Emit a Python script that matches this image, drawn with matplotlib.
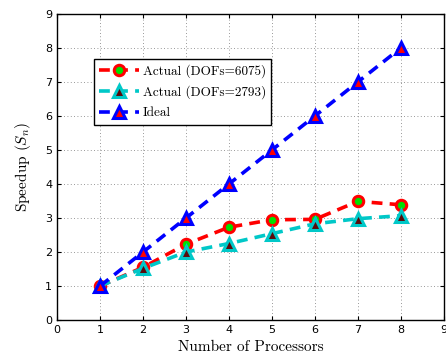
import matplotlib
matplotlib.use('Agg')
import matplotlib.pyplot as plt

procs = [1, 2, 3, 4, 5, 6, 7, 8]
speedup_6075 = [1.0, 1.55, 2.23, 2.73, 2.95, 2.96, 3.49, 3.39]
speedup_2793 = [1.0, 1.52, 2.0, 2.25, 2.54, 2.83, 2.98, 3.07]
speedup_ideal = [1, 2, 3, 4, 5, 6, 7, 8]

plt.rcParams['mathtext.fontset'] = 'cm'
serif = {'family': 'cmr10'}

fig = plt.figure(figsize=(4.46, 3.58), dpi=100)
ax = fig.add_axes([0.128, 0.106, 0.867, 0.855])

ax.plot(procs, speedup_6075, '--', color='red', linewidth=2.6, dashes=(3, 2),
        marker='o', markersize=7.5, markerfacecolor='#00e000', markeredgecolor='red',
        markeredgewidth=2.2, label='Actual (DOFs=6075)')
ax.plot(procs, speedup_2793, '--', color='#00c8c8', linewidth=2.6, dashes=(3, 2),
        marker='^', markersize=8.5, markerfacecolor='#5a0a0a', markeredgecolor='#00c8c8',
        markeredgewidth=2.2, label='Actual (DOFs=2793)')
ax.plot(procs, speedup_ideal, '--', color='blue', linewidth=2.6, dashes=(3, 2),
        marker='^', markersize=8.5, markerfacecolor='red', markeredgecolor='blue',
        markeredgewidth=2.2, label='Ideal')

ax.set_xlim(0, 9)
ax.set_ylim(0, 9)
ax.set_xticks(range(10))
ax.set_yticks(range(10))
ax.tick_params(direction='in', labelsize=8, length=3, top=True, right=True)
ax.grid(True, linestyle=(0, (1, 3)), color='#777777', linewidth=0.6)
for s in ax.spines.values():
    s.set_linewidth(1.0)

ax.set_xlabel('Number of Processors', fontsize=11, fontdict=serif, labelpad=4)
ax.set_ylabel('Speedup ($S_n$)', fontsize=11, fontdict=serif, labelpad=9)

leg = ax.legend(loc='upper left', bbox_to_anchor=(0.078, 0.876), prop={'family': 'cmr10', 'size': 9.5},
                fancybox=False, edgecolor='black', framealpha=1, handlelength=3,
                borderpad=0.4, labelspacing=0.6, handletextpad=0.3)
leg.get_frame().set_linewidth(1.0)

fig.savefig('out.png', dpi=100)
